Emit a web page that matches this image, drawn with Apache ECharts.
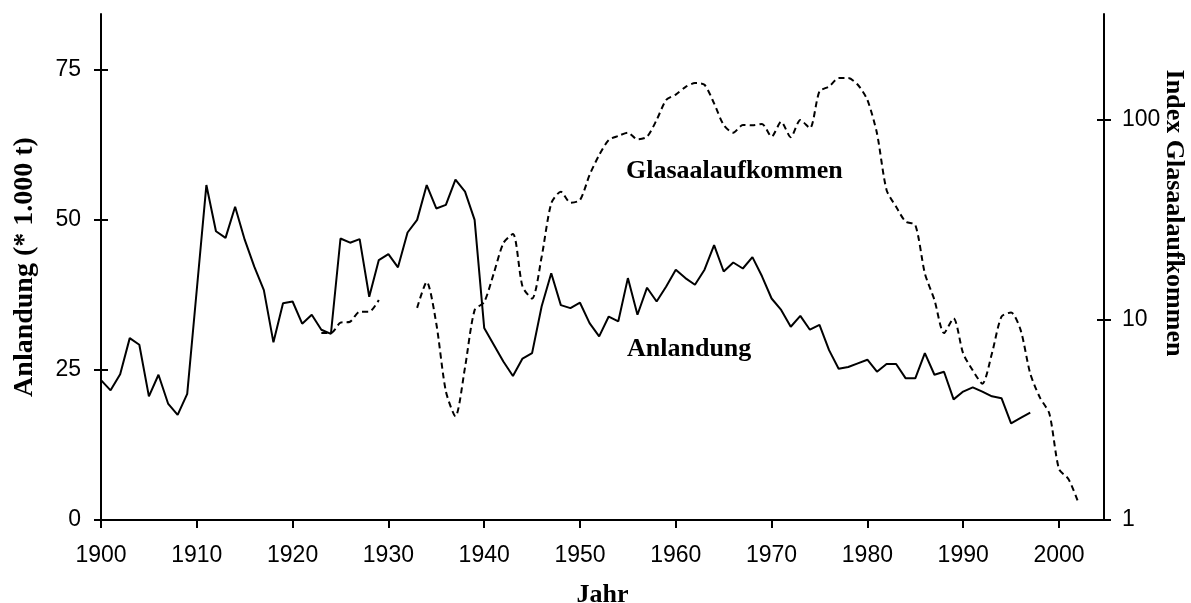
<!DOCTYPE html>
<html>
<head>
<meta charset="utf-8">
<title>Anlandung und Glasaalaufkommen</title>
<script src="https://cdn.jsdelivr.net/npm/echarts@6/dist/echarts.min.js"></script>
<style>
    html, body { margin: 0; padding: 0; background: #fff; }
    #main { width: 1191px; height: 603px; }
</style>
</head>
<body>
<div id="main"></div>
<script>
// Anlandung (* 1.000 t), 1900 - 1997
var landYears = [];
for (var y = 1900; y <= 1997; y++) landYears.push(y);
var landValues = [
    23.3, 21.6, 24.3, 30.3, 29.2, 20.6, 24.2, 19.4, 17.5, 21.0,
    38.4, 55.8, 48.1, 47.0, 52.2, 46.7, 42.2, 38.3, 29.6, 36.1,
    36.4, 32.7, 34.2, 31.7, 31.0, 46.9, 46.2, 46.8, 37.2, 43.3,
    44.3, 42.1, 47.9, 50.0, 55.8, 51.9, 52.5, 56.7, 54.7, 50.0,
    32.0, 29.2, 26.4, 24.0, 26.9, 27.8, 35.6, 41.1, 35.8, 35.3,
    36.2, 32.8, 30.6, 33.9, 33.1, 40.3, 34.2, 38.7, 36.4, 38.9,
    41.7, 40.3, 39.2, 41.7, 45.8, 41.4, 42.9, 41.9, 43.8, 40.6,
    36.9, 35.0, 32.2, 34.0, 31.7, 32.5, 28.3, 25.2, 25.5, 26.1,
    26.7, 24.7, 26.0, 26.0, 23.6, 23.6, 27.8, 24.2, 24.7, 20.1,
    21.4, 22.1, 21.4, 20.6, 20.3, 16.1, 17.0, 17.9
];

// Index Glasaalaufkommen, 1923 - 2002 (Lücke 1930 - 1932)
var eelYears = [];
for (var y2 = 1923; y2 <= 2002; y2++) eelYears.push(y2);
var eelValues = [
    8.6, 8.6, 9.7, 9.8, 11.0, 11.0, 12.6,
    null, null, null,
    11.5, 15.5, 9.6, 4.4, 3.3, 5.8, 11.2,
    12.3, 17.1, 24.2, 26.9, 14.7, 12.8, 20.7, 38.3, 43.8, 38.6,
    39.8, 53.1, 66.8, 79.4, 83.2, 86.4, 80.0, 82.5, 100, 126,
    134, 146, 153, 150, 121, 94.4, 86.4, 94.4, 94.0, 95.5,
    82.5, 98.0, 82.0, 100, 91.0, 139, 147, 162, 162, 150,
    126, 85.8, 44.7, 36.8, 31.0, 29.9, 17.1, 12.6, 8.6, 10.2,
    6.8, 5.6, 4.8, 6.8, 10.4, 10.9, 8.9, 5.4, 4.1, 3.4,
    1.8, 1.6, 1.23
];

var xTicks = [1900, 1910, 1920, 1930, 1940, 1950, 1960, 1970, 1980, 1990, 2000];
var leftTicks = [0, 25, 50, 75];
var rightTicks = [1, 10, 100];

var landData = landYears.map(function (yr, i) { return [yr, landValues[i]]; });
var eelData = eelYears.map(function (yr, i) { return [yr, eelValues[i]]; });

var labelFont = { color: '#000', fontFamily: '"Liberation Sans Narrow", "Liberation Sans"', fontSize: 23 };
var titleFont = { color: '#000', fontFamily: 'Liberation Serif', fontWeight: 'bold', fontSize: 26 };
var tickStyle = { color: '#000', width: 2 };
var axisLine = { show: true, lineStyle: tickStyle };

var myChart = echarts.init(document.getElementById('main'));

var option = {
    animation: false,
    backgroundColor: '#fff',
    grid: { left: 101, right: 87, top: 14, bottom: 83, outerBoundsMode: 'none' },
    xAxis: {
        type: 'value',
        min: 1900,
        max: 2004.7,
        interval: 10,
        name: 'Jahr',
        nameLocation: 'middle',
        nameGap: 62,
        nameTextStyle: titleFont,
        axisLine: axisLine,
        axisTick: { show: true, length: 8, lineStyle: tickStyle, customValues: xTicks },
        axisLabel: Object.assign({ margin: 24, customValues: xTicks, formatter: function (v) { return String(v); } }, labelFont),
        splitLine: { show: false }
    },
    yAxis: [
        {
            type: 'value',
            position: 'left',
            min: 0,
            max: 84.3,
            interval: 25,
            name: 'Anlandung (* 1.000 t)',
            nameLocation: 'middle',
            nameGap: 62,
            nameTextStyle: Object.assign({}, titleFont, { fontSize: 28 }),
            axisLine: axisLine,
            axisTick: { show: true, length: 7, lineStyle: tickStyle, customValues: leftTicks },
            axisLabel: Object.assign({ margin: 20, customValues: leftTicks }, labelFont),
            splitLine: { show: false }
        },
        {
            type: 'log',
            position: 'right',
            logBase: 10,
            min: 1,
            max: 338.8,
            axisLine: axisLine,
            axisTick: { show: true, length: 7, lineStyle: tickStyle, customValues: rightTicks },
            axisLabel: Object.assign({ margin: 18, customValues: rightTicks }, labelFont),
            splitLine: { show: false }
        },
        // inner halves of the crossing ticks
        {
            type: 'value',
            position: 'left',
            min: 0,
            max: 84.3,
            interval: 25,
            axisLine: { show: false },
            axisTick: { show: true, inside: true, length: 7, lineStyle: tickStyle, customValues: leftTicks },
            axisLabel: { show: false },
            splitLine: { show: false }
        },
        {
            type: 'log',
            position: 'right',
            logBase: 10,
            min: 1,
            max: 338.8,
            axisLine: { show: false },
            axisTick: { show: true, inside: true, length: 7, lineStyle: tickStyle, customValues: rightTicks },
            axisLabel: { show: false },
            splitLine: { show: false }
        }
    ],
    series: [
        {
            name: 'Anlandung',
            type: 'line',
            yAxisIndex: 0,
            data: landData,
            showSymbol: false,
            lineStyle: { color: '#000', width: 2 }
        },
        {
            name: 'Glasaalaufkommen',
            type: 'line',
            yAxisIndex: 1,
            data: eelData,
            showSymbol: false,
            connectNulls: false,
            smooth: 0.25,
            lineStyle: { color: '#000', width: 2, type: [6, 4] }
        }
    ],
    graphic: [
        {
            type: 'text', x: 626, y: 171,
            style: { text: 'Glasaalaufkommen', fill: '#000', font: 'bold 26px "Liberation Serif"', align: 'left', verticalAlign: 'middle' }
        },
        {
            type: 'text', x: 627, y: 349,
            style: { text: 'Anlandung', fill: '#000', font: 'bold 26px "Liberation Serif"', align: 'left', verticalAlign: 'middle' }
        },
        {
            type: 'text', x: 1174, y: 213, rotation: -Math.PI / 2,
            style: { text: 'Index Glasaalaufkommen', fill: '#000', font: 'bold 26px "Liberation Serif"', align: 'center', verticalAlign: 'middle' }
        }
    ]
};

myChart.setOption(option);
</script>
</body>
</html>
